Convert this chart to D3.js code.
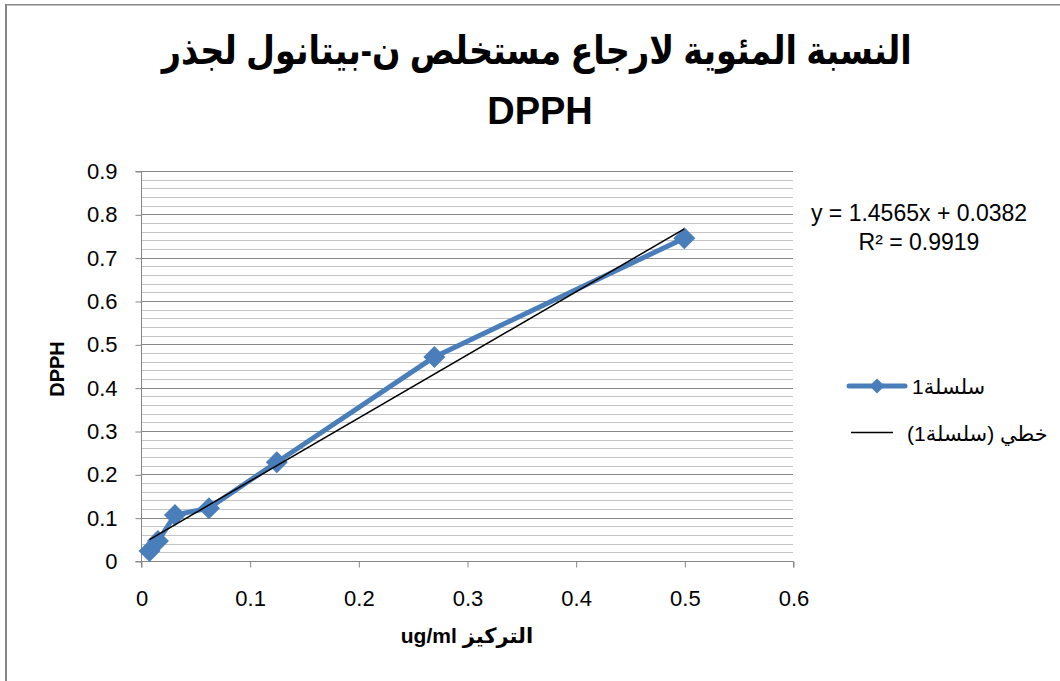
<!DOCTYPE html>
<html><head><meta charset="utf-8">
<script src="https://cdn.jsdelivr.net/npm/d3@7"></script>
<style>html,body{margin:0;padding:0;background:#fff;}svg{display:block;}</style>
</head><body>
<svg id="c" width="1060" height="681"></svg>
<script>
const concentrations = [0.0078, 0.0156, 0.03125, 0.0625, 0.125, 0.27, 0.5];
const dpphValues = [0.023, 0.046, 0.106, 0.122, 0.228, 0.471, 0.745];
const trendSlope = 1.4565;
const trendIntercept = 0.0382;
const xTicks = [0, 0.1, 0.2, 0.3, 0.4, 0.5, 0.6];
const yTicks = [0, 0.1, 0.2, 0.3, 0.4, 0.5, 0.6, 0.7, 0.8, 0.9];
const titleLine1 = "النسبة المئوية لارجاع مستخلص ن-بيتانول لجذر";
const titleLine2 = "DPPH";
const xTitle = "التركيز ug/ml";
const yTitle = "DPPH";
const seriesName = "سلسلة1";
const trendName = "خطي (سلسلة1)";
const equationText = "y = 1.4565x + 0.0382";
const r2Text = "R² = 0.9919";

const svg = d3.select("#c");
const FONT = "'Liberation Sans', Arial, 'DejaVu Sans', sans-serif";
const BLUE = "#4a7ebb";

// outer border (left + top visible)
svg.append("rect").attr("x",5).attr("y",4).attr("width",2).attr("height",700).attr("fill","#878787");
svg.append("rect").attr("x",5).attr("y",4).attr("width",1100).attr("height",1.5).attr("fill","#878787");

const x = d3.scaleLinear().domain([0,0.6]).range([141,793]);
const y = d3.scaleLinear().domain([0,0.9]).range([561,171]);

// gridlines minor and major
const minor = d3.range(0, 0.9001, 0.02).map(v=>+v.toFixed(2));
svg.append("g").selectAll("line").data(minor.filter(v=>Math.abs(v*10-Math.round(v*10))>1e-6))
  .join("line").attr("x1",x(0)).attr("x2",x(0.6))
  .attr("y1",d=>Math.round(y(d))+0.5).attr("y2",d=>Math.round(y(d))+0.5)
  .attr("stroke","#c4c4c4").attr("stroke-width",1);
svg.append("g").selectAll("line").data(yTicks.filter(v=>v>0))
  .join("line").attr("x1",x(0)).attr("x2",x(0.6))
  .attr("y1",d=>Math.round(y(d))+0.5).attr("y2",d=>Math.round(y(d))+0.5)
  .attr("stroke","#878787").attr("stroke-width",1);

// axes
const yAxis = d3.axisLeft(y).tickValues(yTicks).tickSize(6).tickPadding(18).tickFormat(d=>d3.format("")(d));
const gy = svg.append("g").attr("transform",`translate(${x(0)+0.5},0.5)`).call(yAxis);
const xAxis = d3.axisBottom(x).tickValues(xTicks).tickSize(6).tickPadding(23).tickFormat(d=>d3.format("")(d));
const gx = svg.append("g").attr("transform",`translate(0.5,${y(0)+0.5})`).call(xAxis);
[gx,gy].forEach(g=>{
  g.select(".domain").attr("stroke","#878787").attr("stroke-width",1);
  g.selectAll(".tick line").attr("stroke","#878787");
  g.selectAll(".tick text").attr("fill","#000").style("font-family",FONT).style("font-size","22px");
});
gy.select(".domain").attr("d",`M-6,${y(0.9)}H0V${y(0)}H-6`);
gx.select(".domain").attr("d",`M${x(0)},6V0H${x(0.6)}V6`);

// series line
const pts = concentrations.map((c,i)=>[c,dpphValues[i]]);
svg.append("path").datum(pts)
  .attr("d", d3.line().x(d=>x(d[0])).y(d=>y(d[1])))
  .attr("fill","none").attr("stroke",BLUE).attr("stroke-width",5).attr("stroke-linejoin","round").attr("stroke-linecap","round");

const diamond = r => `M0,${-r}L${r},0L0,${r}L${-r},0Z`;
svg.append("g").selectAll("path").data(pts).join("path")
  .attr("transform",d=>`translate(${x(d[0])},${y(d[1])})`)
  .attr("d",diamond(11)).attr("fill",BLUE);

// trendline
const xMin = d3.min(concentrations), xMax = d3.max(concentrations);
svg.append("line")
  .attr("x1",x(xMin)).attr("y1",y(trendSlope*xMin+trendIntercept))
  .attr("x2",x(xMax)).attr("y2",y(trendSlope*xMax+trendIntercept))
  .attr("stroke","#000").attr("stroke-width",1.5);

// equation
svg.append("text").attr("x",919).attr("y",221).attr("text-anchor","middle")
  .style("font-family",FONT).style("font-size","23px").text(equationText);
svg.append("text").attr("x",919).attr("y",250).attr("text-anchor","middle")
  .style("font-family",FONT).style("font-size","23px").text(r2Text);

// title
function placeLeft(t, left){ const b=t.node().getBBox(); t.attr("x", +t.attr("x") + (left - b.x)); }
function placeCenter(t, cx){ const b=t.node().getBBox(); t.attr("x", +t.attr("x") + (cx - (b.x+b.width/2))); }
const t1 = svg.append("text").attr("x",160).attr("y",64).attr("direction","rtl").attr("unicode-bidi","embed")
  .attr("textLength",750).attr("lengthAdjust","spacingAndGlyphs")
  .style("font-family",FONT).style("font-weight","bold").style("font-size","39px").text(titleLine1);
placeLeft(t1, 160);
svg.append("text").attr("x",540).attr("y",124).attr("text-anchor","middle")
  .style("font-family",FONT).style("font-weight","bold").style("font-size","38px").text(titleLine2);

// axis titles
const xt = svg.append("text").attr("x",467).attr("y",643).attr("direction","rtl").attr("unicode-bidi","embed")
  .style("font-family",FONT).style("font-weight","bold").style("font-size","21px").text(xTitle);
placeCenter(xt, 467);
svg.append("text").attr("transform","translate(64,369) rotate(-90)").attr("text-anchor","middle")
  .style("font-family",FONT).style("font-weight","bold").style("font-size","20px").text(yTitle);

// legend
svg.append("line").attr("x1",849).attr("x2",905).attr("y1",386).attr("y2",386)
  .attr("stroke",BLUE).attr("stroke-width",5).attr("stroke-linecap","round");
svg.append("path").attr("transform","translate(877,386)").attr("d",diamond(7.5)).attr("fill",BLUE);
const l1 = svg.append("text").attr("x",912).attr("y",394).attr("direction","rtl").attr("unicode-bidi","embed")
  .style("font-family",FONT).style("font-size","21px").text(seriesName);
placeLeft(l1, 912);
svg.append("line").attr("x1",851).attr("x2",893).attr("y1",432.5).attr("y2",432.5)
  .attr("stroke","#000").attr("stroke-width",1.5);
const l2 = svg.append("text").attr("x",907).attr("y",441).attr("direction","rtl").attr("unicode-bidi","embed")
  .style("font-family",FONT).style("font-size","21px").text(trendName);
placeLeft(l2, 907);
</script>
</body></html>
